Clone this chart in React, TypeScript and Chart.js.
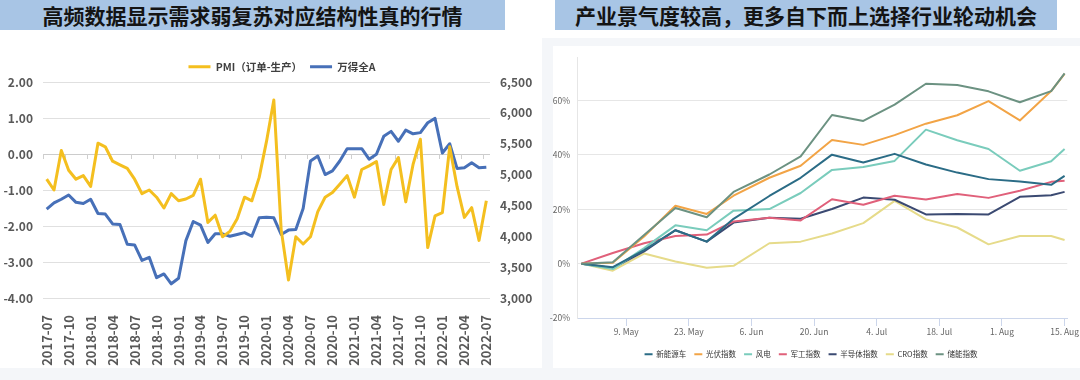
import React, { useEffect, useRef } from "react";
import { Chart, registerables } from "chart.js";

Chart.register(...registerables);

const leftTitle = "高频数据显示需求弱复苏对应结构性真的行情";
const rightTitle = "产业景气度较高，更多自下而上选择行业轮动机会";

const months: string[] = [
  "2017-07", "2017-08", "2017-09", "2017-10", "2017-11", "2017-12",
  "2018-01", "2018-02", "2018-03", "2018-04", "2018-05", "2018-06",
  "2018-07", "2018-08", "2018-09", "2018-10", "2018-11", "2018-12",
  "2019-01", "2019-02", "2019-03", "2019-04", "2019-05", "2019-06",
  "2019-07", "2019-08", "2019-09", "2019-10", "2019-11", "2019-12",
  "2020-01", "2020-02", "2020-03", "2020-04", "2020-05", "2020-06",
  "2020-07", "2020-08", "2020-09", "2020-10", "2020-11", "2020-12",
  "2021-01", "2021-02", "2021-03", "2021-04", "2021-05", "2021-06",
  "2021-07", "2021-08", "2021-09", "2021-10", "2021-11", "2021-12",
  "2022-01", "2022-02", "2022-03", "2022-04", "2022-05", "2022-06",
  "2022-07",
];

const pmiLabel = "PMI（订单-生产）";
const windLabel = "万得全A";

const pmiValues: number[] = [
  -0.7, -1.0, 0.1, -0.45, -0.7, -0.6,
  -0.9, 0.3, 0.2, -0.2, -0.3, -0.4,
  -0.7, -1.1, -1.0, -1.2, -1.5, -1.1,
  -1.3, -1.25, -1.15, -0.7, -1.9, -1.7,
  -2.3, -2.15, -1.8, -1.2, -1.3, -0.65,
  0.35, 1.5, -2.1, -3.5, -2.3, -2.5,
  -2.3, -1.6, -1.2, -1.07, -0.84, -0.6,
  -1.2, -0.43, -0.33, -0.21, -1.4, -0.43,
  -0.1, -1.33, -0.29, 0.41, -2.6, -1.72,
  -1.63, 0.2, -0.9, -1.76, -1.49, -2.4,
  -1.3,
];

const windValues: number[] = [
  4440, 4540, 4600, 4670, 4550, 4530,
  4600, 4370, 4360, 4200, 4190, 3870,
  3860, 3610, 3660, 3330, 3390, 3230,
  3320, 3930, 4240, 4180, 3900, 4040,
  4040, 4000, 4030, 4060, 4000, 4300,
  4310, 4300, 4030, 4100, 4110, 4450,
  5220, 5300, 5000, 5060, 5220, 5420,
  5420, 5420, 5250, 5330, 5620, 5700,
  5540, 5720, 5660, 5680, 5840, 5910,
  5350, 5500, 5100, 5110, 5190, 5110,
  5120,
];

const leftTicks: number[] = [-4, -3, -2, -1, 0, 1, 2];
const rightTicks: number[] = [3000, 3500, 4000, 4500, 5000, 5500, 6000, 6500];

// Right chart: days relative to 9 May
const pointDays: number[] = [-10, -3, 4, 11, 18, 24, 32, 39, 46, 53, 60, 67, 74, 81, 88, 95, 98];
const tickDays: number[] = [0, 14, 28, 42, 56, 70, 84, 98];
const tickLabels: string[] = ["9. May", "23. May", "6. Jun", "20. Jun", "4. Jul", "18. Jul", "1. Aug", "15. Aug"];
const pctTicks: number[] = [-20, 0, 20, 40, 60];

const seriesNames: string[] = ["新能源车", "光伏指数", "风电", "军工指数", "半导体指数", "CRO指数", "储能指数"];
const nevValues: number[] = [0, -1.3, 5, 12.3, 8.1, 16.5, 24.9, 31.6, 40.1, 37.2, 40.4, 36.5, 33.5, 31.1, 30.2, 29, 32.3];
const pvValues: number[] = [0, 0.3, 10, 21.3, 18.3, 25, 31.6, 36, 45.5, 43.7, 47.3, 51.5, 54.6, 59.8, 52.7, 63.5, 69.8];
const windPowerValues: number[] = [0, -2.0, 5.7, 14.1, 12.3, 19.5, 20.1, 26, 34.5, 35.6, 37.8, 49.3, 45.4, 42.2, 34.2, 37.7, 42.2];
const defenseValues: number[] = [0, 3.9, 7.5, 10.2, 10.7, 15.5, 16.9, 15.9, 23.7, 21.7, 25, 23.6, 25.6, 24.2, 26.8, 30.1, 30.5];
const semiValues: number[] = [0, -1.6, 4.5, 12.3, 8.1, 15.1, 16.9, 16.5, 20.1, 24.3, 23.5, 18.1, 18.3, 18.1, 24.6, 25.2, 26.4];
const croValues: number[] = [0, -2.6, 3.7, 0.8, -1.5, -0.8, 7.5, 8.1, 11.1, 14.9, 23.1, 16.3, 13.3, 7.1, 10.2, 10.2, 8.7];
const storageValues: number[] = [0, 0.5, 10.5, 20.5, 17.1, 26.4, 32.8, 39.5, 54.7, 52.5, 58.5, 66.2, 65.7, 63.4, 59.4, 63.5, 70];
const seriesColors: string[] = ["#2b6c86", "#f2a446", "#7accbc", "#e0607a", "#3b4a72", "#e6db8a", "#6c9282"];

const CJK = "'Noto Sans CJK SC', 'Noto Sans', sans-serif";
const NARROW = "'Liberation Sans Narrow', 'Noto Sans CJK SC', sans-serif";

// Excel-style small tick marks on the zero line, every 3 categories
const zeroLineTicks = {
  id: "zeroLineTicks",
  beforeDatasetsDraw(chart: any) {
    const x = chart.scales.x;
    const y = chart.scales.y;
    const y0 = y.getPixelForValue(0);
    const n = months.length;
    const step = (x.right - x.left) / n;
    const ctx = chart.ctx;
    ctx.save();
    ctx.strokeStyle = "#cfcfcf";
    ctx.lineWidth = 1;
    ctx.beginPath();
    for (let i = 0; i <= n; i += 3) {
      const px = Math.round(x.left + i * step) + 0.5;
      ctx.moveTo(px, y0);
      ctx.lineTo(px, y0 + 5);
    }
    ctx.stroke();
    ctx.restore();
  },
};

function LeftChart() {
  const ref = useRef<HTMLCanvasElement | null>(null);
  useEffect(() => {
    if (!ref.current) return;
    const chart = new Chart(ref.current, {
      type: "line",
      data: {
        labels: months,
        datasets: [
          {
            label: pmiLabel,
            data: pmiValues,
            borderColor: "#F4BF1F",
            backgroundColor: "#F4BF1F",
            borderWidth: 3,
            borderJoinStyle: "round",
            pointRadius: 0,
            tension: 0,
            yAxisID: "y",
          },
          {
            label: windLabel,
            data: windValues,
            borderColor: "#4770B8",
            backgroundColor: "#4770B8",
            borderWidth: 3,
            borderJoinStyle: "round",
            pointRadius: 0,
            tension: 0,
            yAxisID: "y1",
          },
        ],
      },
      options: {
        responsive: false,
        animation: false,
        layout: { padding: { left: 0, right: 0, top: 13.5, bottom: 0 } },
        plugins: {
          legend: {
            position: "top",
            labels: {
              usePointStyle: true,
              pointStyle: "line",
              pointStyleWidth: 22,
              padding: 8,
              color: "#404040",
              font: { family: CJK, size: 10.5, weight: "bold" },
            },
          },
          tooltip: { enabled: false },
        },
        scales: {
          x: {
            offset: true,
            grid: { display: false },
            border: { display: false },
            ticks: {
              autoSkip: false,
              minRotation: 90,
              maxRotation: 90,
              padding: 9,
              color: "#595959",
              font: { family: CJK, size: 13, weight: "bold" },
              callback: (_v: any, i: number) => (i % 3 === 0 ? months[i] : ""),
            },
            afterFit: (s: any) => {
              s.height = 72;
            },
          },
          y: {
            position: "left",
            min: leftTicks[0],
            max: leftTicks[leftTicks.length - 1],
            afterBuildTicks: (s: any) => {
              s.ticks = leftTicks.map((v) => ({ value: v }));
            },
            ticks: {
              padding: 10,
              color: "#595959",
              font: { family: CJK, size: 12, weight: "bold" },
              callback: (v: any) => Number(v).toFixed(2),
            },
            grid: {
              color: (c: any) => (c.tick && c.tick.value === 0 ? "#cccccc" : "#e0e0e0"),
              drawTicks: false,
            },
            border: { display: false },
            afterFit: (s: any) => {
              s.width = 43;
            },
          },
          y1: {
            position: "right",
            min: rightTicks[0],
            max: rightTicks[rightTicks.length - 1],
            afterBuildTicks: (s: any) => {
              s.ticks = rightTicks.map((v) => ({ value: v }));
            },
            ticks: {
              padding: 10,
              color: "#595959",
              font: { family: CJK, size: 12, weight: "bold" },
              callback: (v: any) => Number(v).toLocaleString("en-US"),
            },
            grid: { drawOnChartArea: false, drawTicks: false },
            border: { display: false },
            afterFit: (s: any) => {
              s.width = 74;
            },
          },
        },
      },
      plugins: [zeroLineTicks],
    } as any);
    return () => chart.destroy();
  }, []);
  return (
    <canvas
      ref={ref}
      width={564}
      height={330}
      style={{ position: "absolute", left: 0, top: 40, width: 564, height: 330 }}
    />
  );
}

function RightChart() {
  const ref = useRef<HTMLCanvasElement | null>(null);
  useEffect(() => {
    if (!ref.current) return;
    const allSeries = [nevValues, pvValues, windPowerValues, defenseValues, semiValues, croValues, storageValues];
    const chart = new Chart(ref.current, {
      type: "line",
      data: {
        datasets: allSeries.map((vals, k) => ({
          label: seriesNames[k],
          data: pointDays.map((d, j) => ({ x: d, y: vals[j] })),
          borderColor: seriesColors[k],
          backgroundColor: seriesColors[k],
          borderWidth: 2,
          borderJoinStyle: "round",
          pointRadius: 0,
          tension: 0,
          order: k === 6 ? -1 : k,
        })),
      },
      options: {
        responsive: false,
        animation: false,
        layout: { padding: { left: 0, right: 5, top: 7, bottom: 0 } },
        plugins: {
          legend: {
            position: "bottom",
            labels: {
              usePointStyle: true,
              pointStyle: "line",
              pointStyleWidth: 8,
              padding: 8,
              color: "#333333",
              font: { family: NARROW, size: 7.5 },
              sort: (a: any, b: any) => a.datasetIndex - b.datasetIndex,
            },
          },
          tooltip: { enabled: false },
        },
        scales: {
          x: {
            type: "linear",
            min: -11,
            max: 98.6,
            afterBuildTicks: (s: any) => {
              s.ticks = tickDays.map((v) => ({ value: v }));
            },
            ticks: {
              autoSkip: false,
              maxRotation: 0,
              padding: 1,
              color: "#666666",
              font: { family: NARROW, size: 8.5 },
              callback: (v: any) => {
                const i = tickDays.indexOf(Number(v));
                return i >= 0 ? tickLabels[i] : "";
              },
            },
            grid: { drawOnChartArea: false, drawTicks: true, tickLength: 8, color: "#ccd6eb" },
            border: { display: true, color: "#ccd6eb" },
            afterFit: (s: any) => {
              s.height = 24.5;
            },
          },
          y: {
            min: -20,
            max: 76,
            afterBuildTicks: (s: any) => {
              s.ticks = pctTicks.map((v) => ({ value: v }));
            },
            ticks: {
              padding: 7,
              color: "#666666",
              font: { family: NARROW, size: 8.5 },
              callback: (v: any) => `${v}%`,
            },
            grid: { color: "#e6e6e6", drawTicks: false },
            border: { display: true, color: "#e6e6e6" },
            afterFit: (s: any) => {
              s.width = 30;
            },
          },
        },
      },
    } as any);
    return () => chart.destroy();
  }, []);
  return (
    <canvas
      ref={ref}
      width={533}
      height={323}
      style={{ position: "absolute", left: 547, top: 45, width: 533, height: 323 }}
    />
  );
}

export default function App() {
  const titleStyle: React.CSSProperties = {
    position: "absolute",
    top: 0,
    height: 30,
    lineHeight: "30px",
    background: "#a8c5e5",
    color: "#141414",
    fontFamily: CJK,
    fontWeight: "bold",
    fontSize: 21,
    textAlign: "center",
    whiteSpace: "nowrap",
  };
  return (
    <div
      style={{
        position: "fixed",
        left: 0,
        top: 0,
        width: 1080,
        height: 380,
        background: "#f4f6f9",
        overflow: "hidden",
      }}
    >
      <div style={{ position: "absolute", left: 0, top: 0, width: 1080, height: 38, background: "#ffffff" }} />
      <div style={{ position: "absolute", left: 0, top: 38, width: 542, height: 330, background: "#ffffff" }} />
      <div style={{ position: "absolute", left: 553, top: 46, width: 527, height: 322, background: "#ffffff" }} />
      <div style={{ ...titleStyle, left: 0, width: 505 }}>{leftTitle}</div>
      <div style={{ ...titleStyle, left: 555, width: 502 }}>{rightTitle}</div>
      <LeftChart />
      <RightChart />
    </div>
  );
}
